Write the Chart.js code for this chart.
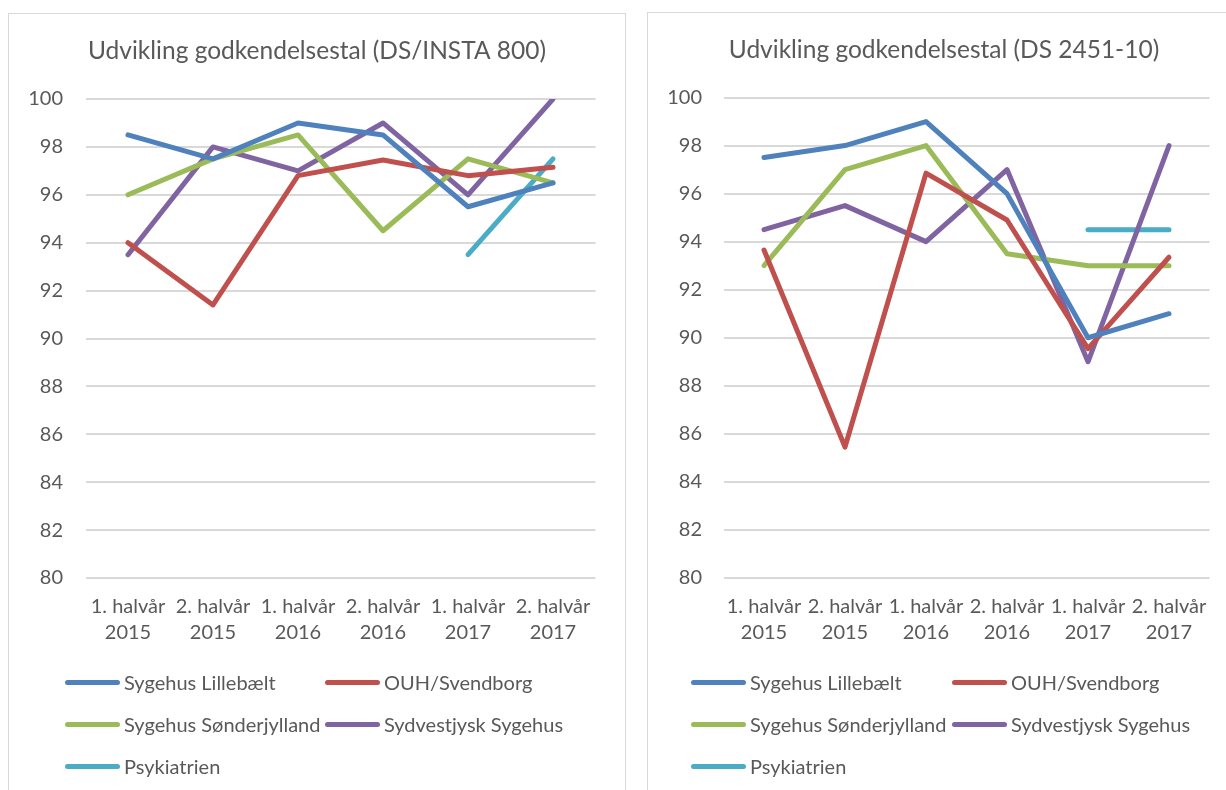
<!DOCTYPE html>
<html><head><meta charset="utf-8">
<script src="https://cdn.jsdelivr.net/npm/chart.js@4.4.1/dist/chart.umd.min.js"></script>
<style>
html,body{margin:0;padding:0;background:#fff;overflow:hidden;width:1226px;height:790px;}
.panel{position:absolute;border:1px solid #d9d9d9;background:#fff;overflow:hidden;}
#p1{left:8px;top:13px;width:616px;height:790px;}
#p2{left:647px;top:12px;width:592px;height:790px;}
canvas{position:absolute;left:0;top:0;}
.li{position:absolute;display:flex;align-items:center;white-space:nowrap;height:30px;font-family:Lato,"Open Sans",sans-serif;font-size:20px;color:#595959;}
.sw{display:inline-block;height:5px;border-radius:3px;width:55px;margin-right:4px;}
</style></head>
<body>
<div class="panel" id="p1"><canvas id="c1" width="616" height="777"></canvas></div>
<div class="panel" id="p2"><canvas id="c2" width="592" height="778"></canvas></div>
<div id="legends"></div>
<script>
// ---- data ----
const categories = [["1. halvår","2015"],["2. halvår","2015"],["1. halvår","2016"],["2. halvår","2016"],["1. halvår","2017"],["2. halvår","2017"]];
const seriesNames = ["Sygehus Lillebælt","OUH/Svendborg","Sygehus Sønderjylland","Sydvestjysk Sygehus","Psykiatrien"];
const seriesColors = ["#4F81BD","#C0504D","#9BBB59","#8064A2","#4BACC6"];
const yTicks = [80,82,84,86,88,90,92,94,96,98,100];

const titleLeft = "Udvikling godkendelsestal (DS/INSTA 800)";
const insta_Lillebaelt   = [98.5, 97.5, 99.0, 98.5, 95.5, 96.5];
const insta_OUH          = [94.0, 91.4, 96.8, 97.45, 96.8, 97.15];
const insta_Sonderjyll   = [96.0, 97.5, 98.5, 94.5, 97.5, 96.5];
const insta_Sydvestjysk  = [93.5, 98.0, 97.0, 99.0, 96.0, 100.0];
const insta_Psykiatrien  = [null, null, null, null, 93.5, 97.5];

const titleRight = "Udvikling godkendelsestal (DS 2451-10)";
const ds_Lillebaelt   = [97.5, 98.0, 99.0, 96.0, 90.0, 91.0];
const ds_OUH          = [93.65, 85.45, 96.85, 94.9, 89.55, 93.35];
const ds_Sonderjyll   = [93.0, 97.0, 98.0, 93.5, 93.0, 93.0];
const ds_Sydvestjysk  = [94.5, 95.5, 94.0, 97.0, 89.0, 98.0];
const ds_Psykiatrien  = [null, null, null, null, 94.5, 94.5];

const FONT = 'Lato, "Open Sans", sans-serif';
const TXT = '#595959';

function makeChart(id, title, arrays, dims) {
  const datasets = arrays.map((arr, i) => ({
    label: seriesNames[i],
    data: arr,
    borderColor: seriesColors[i],
    backgroundColor: seriesColors[i],
    borderWidth: 5,
    borderCapStyle: 'round',
    borderJoinStyle: 'round',
    pointRadius: 0,
    pointHoverRadius: 0,
    tension: 0,
    spanGaps: false
  }));
  return new Chart(document.getElementById(id), {
    type: 'line',
    data: { labels: categories, datasets },
    options: {
      responsive: false,
      animation: false,
      events: [],
      layout: { padding: { left: 0, right: 0, top: 0, bottom: dims.padBottom } },
      plugins: {
        legend: { display: false },
        tooltip: { enabled: false },
        title: {
          display: true, text: title, color: TXT,
          font: { family: FONT, size: 24.5, weight: 'normal', lineHeight: 1.2 },
          padding: { top: dims.titleTop, bottom: dims.titleBottom }
        }
      },
      scales: {
        x: {
          type: 'category', offset: true,
          grid: { display: false, drawTicks: false },
          border: { display: false },
          ticks: { color: TXT, font: { family: FONT, size: 20, lineHeight: 1.3 }, padding: 15.5, maxRotation: 0, autoSkip: false },
          afterFit(s) { s.height = 70; }
        },
        y: {
          min: yTicks[0], max: yTicks[yTicks.length - 1],
          afterBuildTicks(s) { s.ticks = yTicks.map(v => ({ value: v })); },
          grid: { color: '#d9d9d9', lineWidth: 2, drawTicks: false },
          border: { display: false },
          ticks: { color: TXT, font: { family: FONT, size: 20 }, padding: dims.yPad },
          afterFit(s) { s.width = dims.yWidth; }
        },
        yr: {
          position: 'right', display: true,
          grid: { display: false, drawTicks: false },
          border: { display: false },
          ticks: { display: false },
          afterFit(s) { s.width = dims.rightWidth; }
        }
      }
    }
  });
}

const chartL = makeChart('c1', titleLeft,
  [insta_Lillebaelt, insta_OUH, insta_Sonderjyll, insta_Sydvestjysk, insta_Psykiatrien],
  { yWidth: 76.5, rightWidth: 29.5, yPad: 22.5, titleTop: 22.8, titleBottom: 32.8, padBottom: 777 - 564 - 70 });
const chartR = makeChart('c2', titleRight,
  [ds_Lillebaelt, ds_OUH, ds_Sonderjyll, ds_Sydvestjysk, ds_Psykiatrien],
  { yWidth: 75.5, rightWidth: 30.5, yPad: 21.5, titleTop: 22.8, titleBottom: 32.3, padBottom: 778 - 565 - 70 });

// ---- HTML legends built from the chart datasets ----
function buildLegend(chart, x0, x1) {
  const host = document.getElementById('legends');
  const rows = [682, 724, 766];
  chart.data.datasets.forEach((ds, i) => {
    const el = document.createElement('div');
    el.className = 'li';
    el.style.left = (i % 2 === 0 ? x0 : x1) + 'px';
    el.style.top = (rows[Math.floor(i / 2)] - 15) + 'px';
    const sw = document.createElement('span');
    sw.className = 'sw';
    sw.style.background = ds.borderColor;
    el.appendChild(sw);
    el.appendChild(document.createTextNode(ds.label));
    host.appendChild(el);
  });
}
buildLegend(chartL, 65, 325);
buildLegend(chartR, 691, 952);
</script>
</body></html>
